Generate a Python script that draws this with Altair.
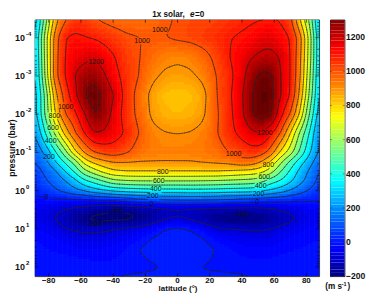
import numpy as np
import pandas as pd
import altair as alt

alt.data_transformers.disable_max_rows()
FONT = "Liberation Sans"

lats = [-88,-82,-76,-70,-64,-58,-52,-46,-40,-32,-24,-16,-8,0,8,16,24,32,40,46,52,58,64,70,76,82,88]
logp = [-4.47,-4,-3.5,-3,-2.5,-2,-1.5,-1,-.75,-.5,-.25,0,.25,.5,.75,1,1.25,1.5,1.75,2,2.24]
r00 = [250,560,860,990,1050,1050,1005,985,965,955,955,965,985,1010,1020,1025,1035,1055,1075,1090,1095,1100,1095,1040,800,580,260]
r01 = [300,650,950,1100,1120,1105,1095,1075,1050,1015,1003,990,1000,1015,1025,1045,1065,1095,1115,1130,1165,1170,1135,1100,950,660,300]
r02 = [290,640,960,1105,1150,1170,1190,1150,1110,1040,1005,960,925,915,925,965,1025,1098,1150,1195,1220,1225,1195,1105,930,650,300]
r03 = [280,620,970,1100,1200,1260,1275,1220,1140,1060,1000,920,885,875,885,920,1000,1070,1165,1270,1325,1320,1200,1105,920,620,290]
r04 = [260,530,870,1040,1170,1300,1345,1280,1210,1060,965,875,830,820,830,870,995,1080,1190,1300,1350,1340,1200,1100,880,580,270]
r05 = [260,520,800,1000,1075,1190,1310,1270,1175,1055,975,885,850,840,850,885,985,1070,1180,1300,1340,1320,1130,1000,790,490,240]
r06 = [200,400,620,830,985,1100,1200,1190,1150,1090,1000,925,905,900,905,925,990,1070,1130,1180,1200,1120,1000,800,580,390,180]
r07 = [130,220,380,550,770,910,1000,1035,1050,1015,955,935,925,930,930,940,955,1000,1040,1060,1045,960,780,650,480,310,180]
r08 = [100,170,290,410,530,740,825,870,905,905,900,900,900,900,900,910,920,930,970,960,900,780,620,470,340,240,130]
r09 = [60,120,180,290,410,560,650,730,780,800,800,800,800,800,800,800,800,790,770,760,730,640,500,380,270,180,90]
r10 = [40,90,130,190,260,370,430,500,570,590,600,600,600,600,600,595,590,580,570,560,530,440,390,320,230,160,70]
r11 = [25,50,90,130,175,210,260,290,320,340,350,360,360,360,365,365,360,350,345,340,320,290,250,195,140,90,30]
r12 = [-25,-22,-22,-22,-22,-20,-12,-6,2,30,60,70,85,90,95,90,85,75,60,50,35,25,20,12,10,5,3]
r13 = [-60,-70,-90,-105,-125,-140,-170,-185,-198,-195,-175,-160,-130,-125,-130,-135,-145,-147,-147,-147,-140,-120,-100,-85,-65,-50,-40]
r14 = [-60,-75,-102,-135,-175,-205,-220,-225,-225,-220,-200,-165,-105,-85,-108,-150,-195,-205,-210,-210,-200,-175,-150,-120,-85,-60,-45]
r15 = [-35,-50,-70,-95,-110,-120,-125,-115,-100,-80,-65,-30,3,15,0,-30,-85,-95,-100,-105,-108,-95,-75,-55,-45,-35,-30]
r16 = [-20,-25,-35,-50,-65,-70,-70,-65,-60,-45,-25,3,12,18,15,2,-25,-45,-55,-62,-65,-60,-45,-35,-30,-25,-20]
r17 = [-15,-20,-25,-30,-38,-42,-42,-38,-30,-18,2,10,15,20,18,10,0,-18,-30,-36,-38,-35,-30,-25,-20,-15,-10]
r18 = [-8,-10,-12,-15,-18,-22,-25,-25,-22,-15,-5,5,12,15,15,10,-5,-12,-18,-22,-22,-20,-15,-12,-10,-8,-5]
r19 = [-3,-3,-2,-2,-5,-8,-12,-15,-15,-14,-10,-5,1,8,3,-3,-6,-8,-10,-10,-10,-8,-6,-5,-5,-5,-5]
r20 = [-3,-3,-3,-3,-6,-10,-12,-10,-2,4,6,7,8,8,8,8,7,6,3,0,-2,-5,-6,-6,-6,-6,-6]
rows = [r00,r01,r02,r03,r04,r05,r06,r07,r08,r09,r10,r11,r12,r13,r14,r15,r16,r17,r18,r19,r20]

label_text = ["1200","1000","1000","1000","800","600","400","200","1200","1000","0","-200","-200","800","600","400","200","0","800","600","400","200","0","-200"]
label_lat = [-50.5,-22,-11,-69.5,-76.5,-77.3,-78.7,-79.8,54.2,34.8,-81.2,-38.2,-51.5,-9.2,-11.7,-13.5,-15.3,-16,56.3,53.8,51.7,50.3,49.5,39.4]
label_log = [-3.36,-3.92,-4.19,-2.2,-1.95,-1.65,-1.30,-.88,-1.52,-.96,.17,.5,.86,-.5,-.25,-.04,.15,.34,-.68,-.36,-.12,.1,.3,.6]

levels = list(range(-200, 1400, 100))
xticks = [-80,-60,-40,-20,0,20,40,60,80]
xtick_labels = ["\u221280","\u221260","\u221240","\u221220","0","20","40","60","80"]
decades = [-4,-3,-2,-1,0,1,2]
cbar_ticks = [-200,0,200,400,600,800,1000,1200]
cbar_labels = ["\u2212200","0","200","400","600","800","1000","1200"]
jet_dom = [-200,-35,175,362,550,737,925,1135,1302]
jet_rng = ["#00007f","#0000ff","#007fff","#00ffff","#7fff7f","#ffff00","#ff7f00","#ff0000","#7f0000"]

W, H = 286, 258
XD = [-88.6, 88.0]
YLOG = [-4.47, 2.24]
YD = [10**YLOG[0], 10**YLOG[1]]
STEP = 2.5
BAND = 20

F = np.array(rows, float)
lat_e = np.linspace(XD[0], XD[1], int(W/STEP)+1)
log_e = np.linspace(YLOG[0], YLOG[1], int(H/STEP)+1)
ox = 0.6*(XD[1]-XD[0])/W
oy = 0.6*(YLOG[1]-YLOG[0])/H

def sample(la, lo):
    tmp = np.array([np.interp(la, lats, row) for row in F])
    return np.array([np.interp(lo, logp, tmp[:, j]) for j in range(len(la))]).T

def soften(a):
    p = np.pad(a, 1, mode="edge")
    return (p[:-2,:-2]+2*p[:-2,1:-1]+p[:-2,2:]+2*p[1:-1,:-2]+4*p[1:-1,1:-1]+2*p[1:-1,2:]+p[2:,:-2]+2*p[2:,1:-1]+p[2:,2:])/16

nodes = soften(soften(sample(lat_e, log_e)))
cells = (nodes[:-1,:-1]+nodes[1:,:-1]+nodes[:-1,1:]+nodes[1:,1:])/4
recs = []
ncol, nrow = cells.shape[1], cells.shape[0]
for i in range(nrow):
    for j in range(ncol):
        recs.append((round(lat_e[j],2), round(min(lat_e[j+1]+ox, XD[1]),2),
                     float(f"{10**log_e[i]:.4g}"), float(f"{10**min(log_e[i+1]+oy, YLOG[1]):.4g}"),
                     float(np.floor(cells[i,j]/BAND)*BAND+BAND/2)))
field = pd.DataFrame(recs, columns=["x0","x1","p0","p1","v"])

px = lambda la: (la-XD[0])/(XD[1]-XD[0])*W
py = lambda lo: (lo-YLOG[0])/(YLOG[1]-YLOG[0])*H
boxes = [(px(a), py(b), len(t)*3.9/2+0.5, 3.6) for t,a,b in zip(label_text,label_lat,label_log)]

def crossing(a, b, va, vb, L):
    return a+(L-va)/(vb-va)*(b-a)

segs = []
for L in levels:
    for i in range(nodes.shape[0]-1):
        for j in range(nodes.shape[1]-1):
            v = [nodes[i,j],nodes[i,j+1],nodes[i+1,j+1],nodes[i+1,j]]
            if max(v) < L or min(v) >= L:
                continue
            la0,la1,lo0,lo1 = lat_e[j],lat_e[j+1],log_e[i],log_e[i+1]
            pts = []
            if (v[0]<L)!=(v[1]<L): pts.append((crossing(la0,la1,v[0],v[1],L),lo0))
            if (v[1]<L)!=(v[2]<L): pts.append((la1,crossing(lo0,lo1,v[1],v[2],L)))
            if (v[3]<L)!=(v[2]<L): pts.append((crossing(la0,la1,v[3],v[2],L),lo1))
            if (v[0]<L)!=(v[3]<L): pts.append((la0,crossing(lo0,lo1,v[0],v[3],L)))
            for k in range(0,len(pts)-1,2):
                (a,b),(c,d) = pts[k],pts[k+1]
                mx,my = px((a+c)/2),py((b+d)/2)
                if any(abs(mx-bx)<bw and abs(my-by)<bh for bx,by,bw,bh in boxes):
                    continue
                segs.append((round(a,2),round(c,2),float(f"{10**b:.4g}"),float(f"{10**d:.4g}")))
lines = pd.DataFrame(segs, columns=["x0","x1","p0","p1"])

xs = alt.X("x0:Q", scale=alt.Scale(domain=XD, nice=False, zero=False), axis=None)
ys = alt.Y("p0:Q", scale=alt.Scale(type="log", domain=YD, reverse=True, nice=False), axis=None)
col = alt.Scale(domain=jet_dom, range=jet_rng, interpolate="rgb")

rect = alt.Chart(field).mark_rect(clip=True).encode(
    x=xs, x2="x1:Q", y=ys, y2="p1:Q",
    color=alt.Color("v:Q", scale=col, legend=None))
cont = alt.Chart(lines).mark_rule(color="#222222", strokeWidth=0.6, clip=True, strokeCap="round").encode(
    x="x0:Q", x2="x1:Q", y="p0:Q", y2="p1:Q")
labs = pd.DataFrame({"t":label_text,"x0":label_lat,"p0":[10**b for b in label_log]})
ltext = alt.Chart(labs).mark_text(font=FONT, fontSize=7, color="#111").encode(x="x0:Q", y="p0:Q", text="t:N")

tx = pd.DataFrame({"x0":xticks, "t":xtick_labels})
xt_b = alt.Chart(tx).mark_rule(color="black", strokeWidth=0.6).encode(x="x0:Q", y=alt.value(H), y2=alt.value(H-3))
xt_t = alt.Chart(tx).mark_rule(color="black", strokeWidth=0.6).encode(x="x0:Q", y=alt.value(0), y2=alt.value(3))
xlab = alt.Chart(tx).mark_text(font=FONT, fontWeight="bold", fontSize=8, color="#111").encode(
    x="x0:Q", y=alt.value(H+4.4), text="t:N")
dec = pd.DataFrame({"p0":[10.0**d for d in decades], "a":["10"]*len(decades), "b":[str(d) for d in decades]})
xtitle = alt.Chart(dec.head(1)).mark_text(font=FONT, fontWeight="bold", fontSize=8, color="#111",
    text="latitude (°)").encode(x=alt.value(W/2+1), y=alt.value(H+13))
minor = pd.DataFrame({"p0":[m*10.0**d for d in range(-5,3) for m in range(2,10) if YD[0] < m*10.0**d < YD[1]]})
yt = []
for frame,size in ((dec,4),(minor,2)):
    yt.append(alt.Chart(frame).mark_rule(color="black", strokeWidth=0.5).encode(y="p0:Q", x=alt.value(0), x2=alt.value(size)))
    yt.append(alt.Chart(frame).mark_rule(color="black", strokeWidth=0.5).encode(y="p0:Q", x=alt.value(W-size), x2=alt.value(W)))
y10 = alt.Chart(dec).mark_text(font=FONT, fontWeight="bold", fontSize=9, align="right", color="#111").encode(
    x=alt.value(-10), y="p0:Q", text="a:N")
yexp = alt.Chart(dec).mark_text(font=FONT, fontWeight="bold", fontSize=6, align="left", dy=-4, color="#111").encode(
    x=alt.value(-9), y="p0:Q", text="b:N")
ytitle = alt.Chart(dec.head(1)).mark_text(font=FONT, fontWeight="bold", fontSize=8.6, angle=270, color="#111",
    text="pressure (bar)").encode(x=alt.value(-22.5), y=alt.value(129))
def tt(txt, x, **kw):
    return alt.Chart(dec.head(1)).mark_text(font=FONT, fontWeight="bold", fontSize=8.2, align="left", color="#111",
        text=txt, **kw).encode(x=alt.value(x), y=alt.value(-5))
title = [tt("1x solar,", 118), tt("e", 156, fontStyle="italic"), tt("=0", 161)]

main = alt.layer(rect, cont, ltext, xt_b, xt_t, xlab, xtitle, *yt, y10, yexp, ytitle, *title).properties(width=W, height=H)

cb_v = np.arange(-200, 1300, BAND)
cb = pd.DataFrame({"a":cb_v, "b":cb_v+BAND, "v":cb_v+BAND/2})
cb_y = alt.Y("a:Q", scale=alt.Scale(domain=[-200,1302], nice=False, zero=False), axis=None)
bar = alt.Chart(cb).mark_rect().encode(
    y=cb_y, y2="b:Q", x=alt.value(0), x2=alt.value(14.5),
    color=alt.Color("v:Q", scale=col, legend=None))
ct = pd.DataFrame({"a":cbar_ticks, "t":cbar_labels})
ct1 = alt.Chart(ct).mark_rule(color="black", strokeWidth=0.5, opacity=0.7).encode(y="a:Q", x=alt.value(0), x2=alt.value(2))
ct2 = alt.Chart(ct).mark_rule(color="black", strokeWidth=0.5, opacity=0.7).encode(y="a:Q", x=alt.value(12.5), x2=alt.value(14.5))
clab = alt.Chart(ct).mark_text(font=FONT, fontWeight="bold", fontSize=8.6, align="left", color="#111").encode(
    x=alt.value(16), y="a:Q", text="t:N")
unit_base = dec.head(1)
def ut(txt, x, y, size):
    return alt.Chart(unit_base).mark_text(font=FONT, fontWeight="bold", fontSize=size, align="left", color="#111",
        text=txt).encode(x=alt.value(x), y=alt.value(y))
units = [ut("(m s", -5, 268.5, 8.2), ut("-1", 11.5, 266, 5.5), ut(")", 17.5, 268.5, 8.2)]
cbar = alt.layer(bar, ct1, ct2, clab, *units).properties(width=14.5, height=H)

chart = alt.hconcat(main, cbar, spacing=4).resolve_scale(color="independent", x="independent", y="independent").properties(padding=0).configure_view(stroke="black", strokeWidth=0.8)
chart.save("out.html", embed_options={"renderer": "svg", "actions": False})
